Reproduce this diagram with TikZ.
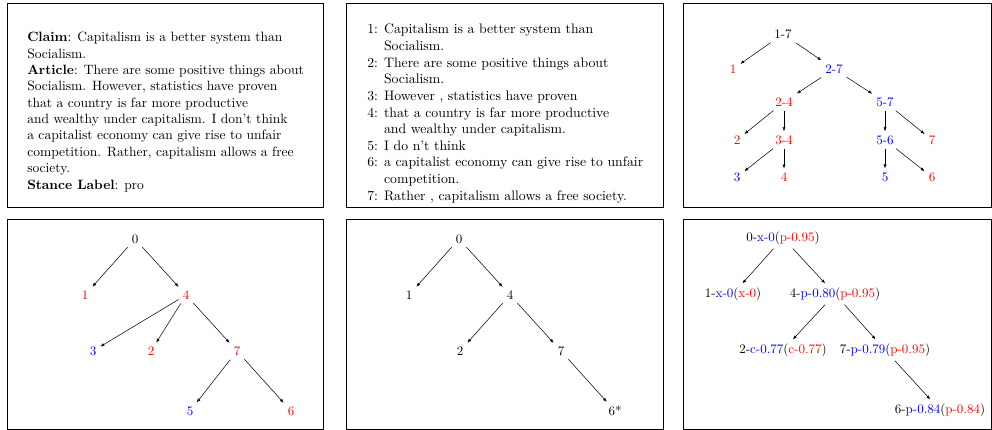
\documentclass[tikz,border=0pt]{standalone}
\usepackage{xcolor}
\usepackage{tikz}
\usetikzlibrary{arrows.meta,positioning}

\newcommand{\bluetxt}[1]{\textcolor{blue}{#1}}
\newcommand{\redtxt}[1]{\textcolor{red}{#1}}

\begin{document}
\begin{tikzpicture}[
    x=0.77pt, y=-0.77pt,
    panel/.style={draw, line width=0.6pt},
    txt/.style={anchor=north west, align=left, inner sep=0pt, font=\fontsize{10.4}{12.6}\selectfont},
    tn/.style={inner sep=3pt, font=\fontsize{10}{12}\selectfont},
    rn/.style={tn, text=red},
    bn/.style={tn, text=blue},
    arr/.style={-{Latex[length=3pt,width=2.4pt]}, line width=0.4pt}
  ]
  \useasboundingbox (0,0) rectangle (992,430);

  % frames
  \draw[panel] (7,3) rectangle (323,207);
  \draw[panel] (346,3) rectangle (663,207);
  \draw[panel] (683,3) rectangle (991,207);
  \draw[panel] (7,219) rectangle (323,429);
  \draw[panel] (346,219) rectangle (663,429);
  \draw[panel] (683,219) rectangle (991,429);

  % claim and article
  \node[txt] (claim) at (27,32) {\textbf{Claim}: Capitalism is a better system than\\
    Socialism.\\
    \textbf{Article}: There are some positive things about\\
    Socialism. However, statistics have proven\\
    that a country is far more productive\\
    and wealthy under capitalism. I don't think\\
    a capitalist economy can give rise to unfair\\
    competition. Rather, capitalism allows a free\\
    society.\\
    \textbf{Stance Label}: pro};

  % segments
  \node[txt, font=\fontsize{10.6}{12.8}\selectfont] (segs) at (367,22) {\begin{tabular}{@{}l@{ }l@{}}
    1: & Capitalism is a better system than\\
       & Socialism.\\
    2: & There are some positive things about\\
       & Socialism.\\
    3: & However , statistics have proven\\
    4: & that a country is far more productive\\
       & and wealthy under capitalism.\\
    5: & I do n't think\\
    6: & a capitalist economy can give rise to unfair\\
       & competition.\\
    7: & Rather , capitalism allows a free society.
  \end{tabular}};

  % span tree
  \node[tn] (s17) at (783,34) {1-7};
  \node[rn] (s1) at (733,69) {1};
  \node[bn] (s27) at (834,69) {2-7};
  \node[rn] (s24) at (784,102) {2-4};
  \node[bn] (s57) at (885,102) {5-7};
  \node[rn] (s2) at (737,140) {2};
  \node[rn] (s34) at (784,140) {3-4};
  \node[bn] (s56) at (885,140) {5-6};
  \node[rn] (s7) at (932,140) {7};
  \node[bn] (s3) at (737,177) {3};
  \node[rn] (s4) at (784,177) {4};
  \node[bn] (s5) at (885,177) {5};
  \node[rn] (s6) at (932,177) {6};

  \draw[arr] (s17) -- (s1);
  \draw[arr] (s17) -- (s27);
  \draw[arr] (s27) -- (s24);
  \draw[arr] (s27) -- (s57);
  \draw[arr] (s24) -- (s2);
  \draw[arr] (s24) -- (s34);
  \draw[arr] (s57) -- (s56);
  \draw[arr] (s57) -- (s7);
  \draw[arr] (s34) -- (s3);
  \draw[arr] (s34) -- (s4);
  \draw[arr] (s56) -- (s5);
  \draw[arr] (s56) -- (s6);

  % dependency tree
  \node[tn] (a0) at (135,239) {0};
  \node[rn] (a1) at (85,295) {1};
  \node[rn] (a4) at (186,295) {4};
  \node[bn] (a3) at (93,351) {3};
  \node[rn] (a2) at (151,351) {2};
  \node[rn] (a7) at (237,351) {7};
  \node[bn] (a5) at (190,411) {5};
  \node[rn] (a6) at (291,411) {6};

  \draw[arr] (a0) -- (a1);
  \draw[arr] (a0) -- (a4);
  \draw[arr] (a4) -- (a3);
  \draw[arr] (a4) -- (a2);
  \draw[arr] (a4) -- (a7);
  \draw[arr] (a7) -- (a5);
  \draw[arr] (a7) -- (a6);

  % pruned tree
  \node[tn] (b0) at (459,239) {0};
  \node[tn] (b1) at (409,295) {1};
  \node[tn] (b4) at (510,295) {4};
  \node[tn] (b2) at (460,351) {2};
  \node[tn] (b7) at (561,351) {7};
  \node[tn] (b6) at (615,411) {6*};

  \draw[arr] (b0) -- (b1);
  \draw[arr] (b0) -- (b4);
  \draw[arr] (b4) -- (b2);
  \draw[arr] (b4) -- (b7);
  \draw[arr] (b7) -- (b6);

  % scored tree
  \node[tn] (c0) at (783,238) {0-\bluetxt{x-0}(\redtxt{p-0.95})};
  \node[tn] (c1) at (733,294) {1-\bluetxt{x-0}(\redtxt{x-0})};
  \node[tn] (c4) at (835,294) {4-\bluetxt{p-0.80}(\redtxt{p-0.95})};
  \node[tn] (c2) at (783,350) {2-\bluetxt{c-0.77}(\redtxt{c-0.77})};
  \node[tn] (c7) at (885,350) {7-\bluetxt{p-0.79}(\redtxt{p-0.95})};
  \node[tn] (c6) at (940,410) {6-\bluetxt{p-0.84}(\redtxt{p-0.84})};

  \draw[arr] (c0) -- (c1);
  \draw[arr] (c0) -- (c4);
  \draw[arr] (c4) -- (c2);
  \draw[arr] (c4) -- (c7);
  \draw[arr] (c7) -- (c6);
\end{tikzpicture}
\end{document}
